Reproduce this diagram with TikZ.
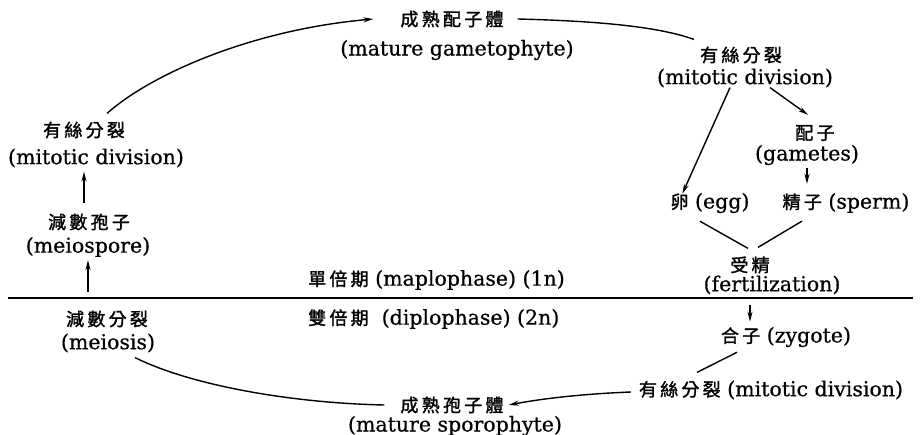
\documentclass[tikz,border=0pt]{standalone}
\usepackage{fontspec}
\usetikzlibrary{arrows.meta}
\newfontfamily\enf[FakeBold=0.6]{DejaVu Serif}
\newfontfamily\cjk[LetterSpace=18,FakeBold=1.6]{Noto Sans CJK TC}
\newcommand\enfs{\enf\fontsize{20.5}{24}\selectfont}
\newcommand\cjks{\cjk\fontsize{18}{20}\selectfont}
\begin{document}
\begin{tikzpicture}[x=1pt,y=-1pt,
  en/.style={font=\enfs, inner sep=0pt},
  cn/.style={font=\cjks, inner sep=0pt},
  arr/.style={-{Stealth[length=10pt,width=5pt]}, line width=1.4pt},
  ln/.style={line width=1.4pt}]
\useasboundingbox[fill=white] (0,0) rectangle (921,435);
% top
\node[cn] (gcn) at (452,19) {成熟配子體};
\node[en] (gen) at (457,50) {(mature gametophyte)};
\node[cn] (rm1cn) at (741,55) {有絲分裂};
\node[en] (rm1en) at (745,78) {(mitotic division)};
\node[cn] (gamcn) at (815,133) {配子};
\node[en] (gamen) at (807,155) {(gametes)};
\node[en] (egg) at (710,203) {{\cjks 卵} (egg)};
\node[en] (sperm) at (846,203) {{\cjks 精子} (sperm)};
\node[cn] (fertcn) at (750,265) {受精};
\node[en] (erten) at (772,285) {(fertilization)};
\node[en] (zyg) at (786,337) {{\cjks 合子} (zygote)};
\node[en] (rm2) at (771,390) {{\cjks 有絲分裂} (mitotic division)};
\node[cn] (spcn) at (452,405) {成熟孢子體};
\node[en] (spen) at (455,426) {(mature sporophyte)};
% left column
\node[cn] (lmcn) at (84,130) {有絲分裂};
\node[en] (lmen) at (96,158) {(mitotic division)};
\node[cn] (mspcn) at (89,222) {減數孢子};
\node[en] (mspen) at (88,247) {(meiospore)};
\node[cn] (meicn) at (107,319) {減數分裂};
\node[en] (meien) at (108,343) {(meiosis)};
% phases
\node[en, anchor=west] (hap) at (308,280) {{\cjks 單倍期}\ (maplophase) (1n)};
\node[en, anchor=west] (dip) at (308,319) {{\cjks 雙倍期}\ \ (diplophase) (2n)};
% dividing line
\coordinate (hlL) at (8,298);
\coordinate (hlR) at (913,298);
\draw[line width=2.8pt] (hlL) -- (hlR);
% connectors
\draw[arr] ([xshift=23pt,yshift=8pt]lmcn.north) .. controls (150,75) and (250,30) .. ([xshift=-27pt]gcn.west);
\draw[ln] ([xshift=14pt]gcn.east) .. controls (600,21) and (660,27) .. ([xshift=-6pt,yshift=7pt]rm1cn.north west);
\draw[arr] ([xshift=-15pt]rm1en.south) -- ([xshift=12pt,yshift=-1pt]egg.north west);
\draw[arr] ([xshift=25pt]rm1en.south) -- ([xshift=-7pt,yshift=10pt]gamcn.north);
\draw[arr, shorten <=3pt, shorten >=9pt] (gamen.south) -- (gamen.south |- sperm.north);
\draw[ln] ([xshift=-10pt,yshift=-8pt]egg.south) -- ([xshift=-2pt,yshift=8pt]fertcn.north);
\draw[ln] ([xshift=-44pt,yshift=-8pt]sperm.south) -- ([xshift=8pt,yshift=9pt]fertcn.north);
\draw[arr, shorten <=7pt] (hlR -| fertcn.center) -- ([yshift=5pt]fertcn.center |- zyg.north);
\draw[ln] ([xshift=-49pt,yshift=-5pt]zyg.south) -- ([xshift=-74pt,yshift=8pt]rm2.north);
\draw[arr] ([xshift=-8pt,yshift=-2pt]rm2.west) .. controls (580,394) and (540,399) .. ([xshift=5pt]spcn.east);
\draw[ln] ([xshift=27pt,yshift=-5pt]meien.south) .. controls (190,385) and (290,403) .. ([xshift=-16pt]spcn.west);
\draw[arr, shorten <=10pt, shorten >=4pt] (mspcn.north -| lmcn.center) -- (lmen.south -| lmcn.center);
\draw[arr, shorten <=6pt, shorten >=3pt] (hlL -| mspen.center) -- (mspen.south);
\end{tikzpicture}
\end{document}
